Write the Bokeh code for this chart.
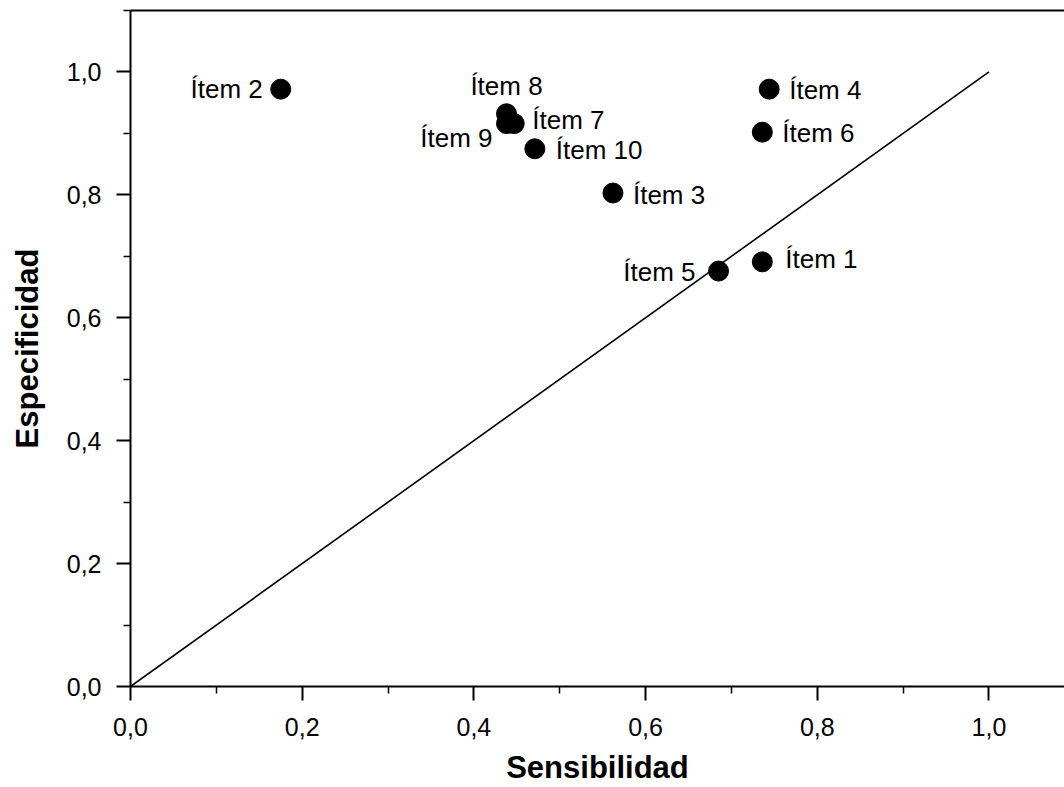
from bokeh.plotting import figure
from bokeh.models import ColumnDataSource, FixedTicker, LinearAxis, Range1d, CustomJSTickFormatter
from bokeh.core.properties import value
from bokeh.embed import file_html
from bokeh.resources import INLINE

# Sensitivity / specificity of each item
items = ["Ítem 1", "Ítem 2", "Ítem 3", "Ítem 4", "Ítem 5",
         "Ítem 6", "Ítem 7", "Ítem 8", "Ítem 9", "Ítem 10"]
sensibilidad = [0.736, 0.175, 0.562, 0.744, 0.685, 0.736, 0.447, 0.438, 0.438, 0.471]
especificidad = [0.691, 0.972, 0.803, 0.972, 0.676, 0.902, 0.916, 0.932, 0.916, 0.875]

major_ticks = [0.0, 0.2, 0.4, 0.6, 0.8, 1.0]
minor_ticks = [0.1, 0.3, 0.5, 0.7, 0.9, 1.1]

# label placement around each marker: (dx, dy in pixels, alignment)
label_place = {
    "Ítem 1": (23, -3, "left"),
    "Ítem 2": (-18, 0, "right"),
    "Ítem 3": (20, 2, "left"),
    "Ítem 4": (20, 1, "left"),
    "Ítem 5": (-23, 1, "right"),
    "Ítem 6": (20, 1, "left"),
    "Ítem 7": (18, -4, "left"),
    "Ítem 8": (0, -28, "center"),
    "Ítem 9": (-14, 14, "right"),
    "Ítem 10": (21, 1, "left"),
}

FONT = "Liberation Sans"

src = ColumnDataSource(dict(
    x=sensibilidad, y=especificidad, label=items,
    dx=[label_place[i][0] for i in items],
    dy=[label_place[i][1] for i in items],
    align=[label_place[i][2] for i in items],
))

p = figure(width=1064, height=787, output_backend="svg", toolbar_location=None,
           x_range=Range1d(0, 1.088), y_range=Range1d(0, 1.1),
           min_border_left=130, min_border_right=0, min_border_top=10,
           min_border_bottom=101)
p.outline_line_color = None
p.grid.visible = False
p.background_fill_color = "white"
p.border_fill_color = "white"

# reference diagonal
p.line([0, 1], [0, 1], line_color="black", line_width=1.6)

p.scatter("x", "y", source=src, size=20, fill_color="black", line_color="black")
p.text("x", "y", text="label", source=src, x_offset="dx", y_offset="dy",
       text_align="align", text_baseline="middle",
       text_font=value(FONT), text_font_size="26px", text_color="black")

fmt = CustomJSTickFormatter(code="return tick.toFixed(1).replace('.', ',');")

for ax in (p.xaxis[0], p.yaxis[0]):
    ax.ticker = FixedTicker(ticks=major_ticks, minor_ticks=minor_ticks)
    ax.formatter = fmt
    ax.axis_line_width = 2
    ax.major_tick_line_width = 2
    ax.minor_tick_line_width = 1.5
    ax.major_tick_out = 14
    ax.major_tick_in = 0
    ax.minor_tick_out = 7
    ax.minor_tick_in = 0
    ax.major_label_text_font = FONT
    ax.major_label_text_font_size = "25px"
    ax.major_label_text_color = "black"
    ax.axis_label_text_font = FONT
    ax.axis_label_text_font_style = "bold"
    ax.axis_label_text_font_size = "31px"
    ax.axis_label_text_color = "black"

p.xaxis.axis_label = "Sensibilidad"
p.yaxis.axis_label = "Especificidad"
p.xaxis.major_label_standoff = 17
p.yaxis.major_label_standoff = 15
p.xaxis.axis_label_standoff = 11
p.yaxis.axis_label_standoff = 19

# top border line
top = LinearAxis(ticker=FixedTicker(ticks=[]), axis_line_width=2,
                 major_tick_line_color=None, minor_tick_line_color=None,
                 major_label_text_font_size="0px")
p.add_layout(top, "above")

open("out.html", "w").write(file_html(p, INLINE))
